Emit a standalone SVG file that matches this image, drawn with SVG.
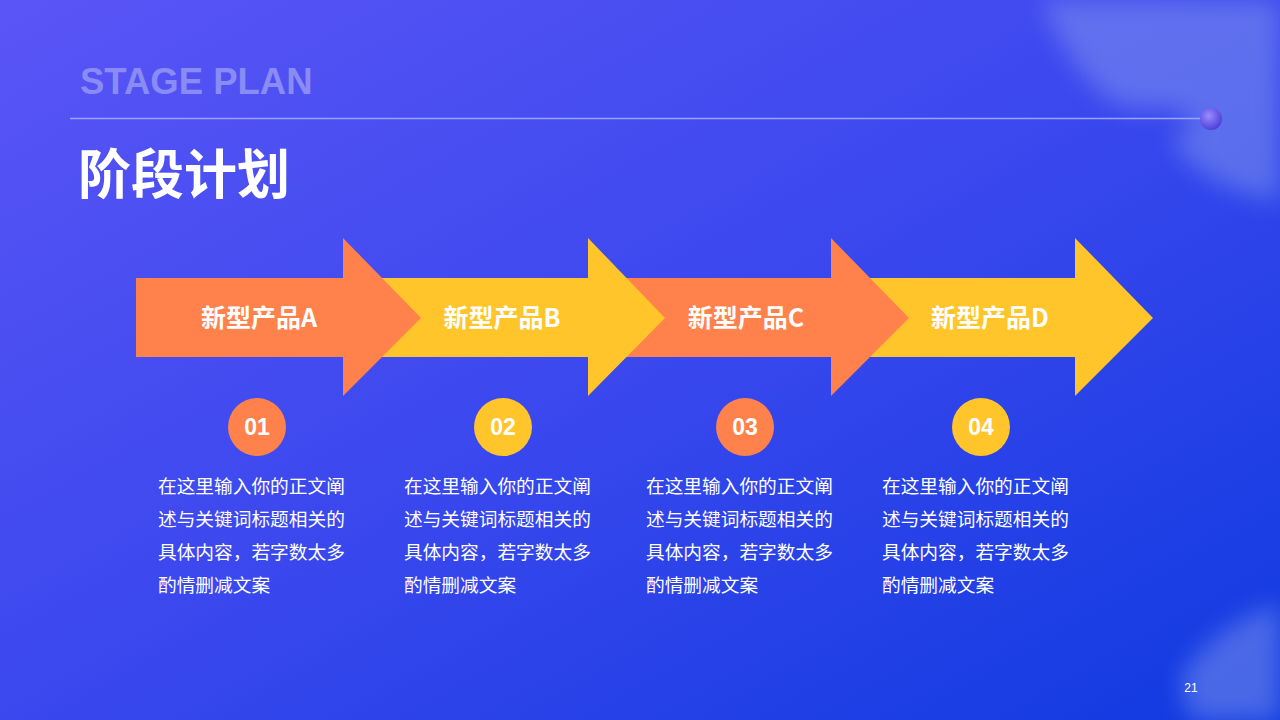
<svg xmlns="http://www.w3.org/2000/svg" width="1280" height="720" viewBox="0 0 1280 720">
<defs>
<linearGradient id="bg" x1="0" y1="0" x2="1" y2="1">
<stop offset="0" stop-color="#5a55f6"/><stop offset="0.5" stop-color="#3a48ee"/><stop offset="1" stop-color="#0f3ae0"/>
</linearGradient>
<radialGradient id="ball" cx="0.4" cy="0.35" r="0.7">
<stop offset="0" stop-color="#9a8cff"/><stop offset="1" stop-color="#4a3ad8"/>
</radialGradient>
<filter id="blur" x="-50%" y="-50%" width="200%" height="200%"><feGaussianBlur stdDeviation="12"/></filter>
<style>
.cn{font-family:"Noto Sans CJK SC","Liberation Sans",sans-serif;fill:#fff}
.lbl{font-size:25px;font-weight:bold}
.num{font-family:"Liberation Sans",sans-serif;font-weight:bold;font-size:23px;fill:#fff}
.body{font-size:18.7px}
.o{fill:#ff824c}.y{fill:#ffc52a}
</style>
</defs>
<rect width="1280" height="720" fill="url(#bg)"/>
<g filter="url(#blur)" fill="#8ca0f0" opacity="0.45">
<path d="M1040 0 L1280 0 L1280 160 C1240 110 1210 140 1190 120 C1170 95 1140 120 1110 100 C1080 80 1060 40 1040 0 Z"/>
<path d="M1170 140 C1220 110 1260 100 1280 110 L1280 200 C1240 195 1200 180 1170 140 Z"/>
<path d="M1180 680 C1200 640 1250 610 1280 605 L1280 720 L1190 720 Z"/>
</g>
<text x="80" y="94" font-family="Liberation Sans, sans-serif" font-weight="bold" font-size="36.5" fill="#8a8cf5">STAGE PLAN</text>
<line x1="70" y1="118.5" x2="1204" y2="118.5" stroke="#9aa3f5" stroke-width="1.5"/>
<circle cx="1211" cy="119" r="11" fill="url(#ball)"/>
<text x="78" y="194" class="cn" font-size="53" font-weight="bold">阶段计划</text>
<g id="arrow-D"><polygon class="y" points="868,278 1075,278 1075,238 1153,318 1075,396 1075,357 868,357"/><text x="990" y="327" class="cn lbl" text-anchor="middle">新型产品D</text></g>
<g id="arrow-C"><polygon class="o" points="624,278 831,278 831,238 909,318 831,396 831,357 624,357"/><text x="746" y="327" class="cn lbl" text-anchor="middle">新型产品C</text></g>
<g id="arrow-B"><polygon class="y" points="380,278 588,278 588,238 665,318 588,396 588,357 380,357"/><text x="502" y="327" class="cn lbl" text-anchor="middle">新型产品B</text></g>
<g id="arrow-A"><polygon class="o" points="136,278 343,278 343,238 421,318 343,396 343,357 136,357"/><text x="259" y="327" class="cn lbl" text-anchor="middle">新型产品A</text></g>
<g id="step1"><circle cx="257" cy="427" r="29" class="o"/><text x="257" y="435" class="num" text-anchor="middle">01</text>
<text class="cn body"><tspan x="158" y="493">在这里输入你的正文阐</tspan><tspan x="158" y="526">述与关键词标题相关的</tspan><tspan x="158" y="559">具体内容，若字数太多</tspan><tspan x="158" y="592">酌情删减文案</tspan></text></g>
<g id="step2"><circle cx="503" cy="427" r="29" class="y"/><text x="503" y="435" class="num" text-anchor="middle">02</text>
<text class="cn body"><tspan x="404" y="493">在这里输入你的正文阐</tspan><tspan x="404" y="526">述与关键词标题相关的</tspan><tspan x="404" y="559">具体内容，若字数太多</tspan><tspan x="404" y="592">酌情删减文案</tspan></text></g>
<g id="step3"><circle cx="745" cy="427" r="29" class="o"/><text x="745" y="435" class="num" text-anchor="middle">03</text>
<text class="cn body"><tspan x="646" y="493">在这里输入你的正文阐</tspan><tspan x="646" y="526">述与关键词标题相关的</tspan><tspan x="646" y="559">具体内容，若字数太多</tspan><tspan x="646" y="592">酌情删减文案</tspan></text></g>
<g id="step4"><circle cx="981" cy="427" r="29" class="y"/><text x="981" y="435" class="num" text-anchor="middle">04</text>
<text class="cn body"><tspan x="882" y="493">在这里输入你的正文阐</tspan><tspan x="882" y="526">述与关键词标题相关的</tspan><tspan x="882" y="559">具体内容，若字数太多</tspan><tspan x="882" y="592">酌情删减文案</tspan></text></g>
<g id="connectors"/>
<text x="1191" y="692" font-family="Liberation Sans, sans-serif" font-size="12" fill="#fff" text-anchor="middle">21</text>
</svg>
